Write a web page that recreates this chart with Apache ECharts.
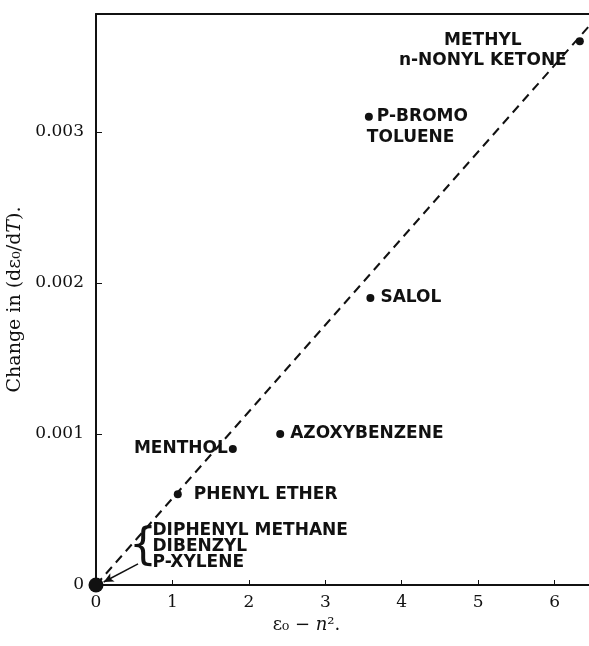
<!DOCTYPE html>
<html>
<head>
    <meta charset="utf-8">
    <title>Change in de0/dT</title>
    <script src="https://cdn.jsdelivr.net/npm/echarts@6/dist/echarts.min.js"></script>
</head>
<body style="margin:0">
    <div id="main" style="width: 589px;height:646px;"></div>
    <script type="text/javascript">
    var myChart = echarts.init(document.getElementById('main'));

// values
var compounds = ['METHYL\nn-NONYL KETONE', 'P-BROMO\nTOLUENE', 'SALOL', 'AZOXYBENZENE',
                 'MENTHOL', 'PHENYL ETHER', 'DIPHENYL METHANE\nDIBENZYL\nP-XYLENE'];
var eps0MinusN2 = [6.33, 3.57, 3.59, 2.41, 1.79, 1.07, 0];
var changeDeDt = [0.0036, 0.0031, 0.0019, 0.0010, 0.0009, 0.0006, 0];
var xTicks = [0, 1, 2, 3, 4, 5, 6];
var yTicks = [0, 0.001, 0.002, 0.003];
var fitLine = [[0, 0], [6.45, 0.0037]];

var serif = 'DejaVu Serif';
var handFont = 'DejaVu Sans';
var ink = '#111';

// label placement for each compound (same order as compounds)
var labelPlace = [
    {position: 'left', distance: 0, align: 'center', offset: [-93, 9], lineHeight: 20},
    {position: 'right', distance: 4, offset: [-10, 10], formatter: '{a|P-BROMO}\n{b|TOLUENE}'},
    {position: 'right', distance: 6},
    {position: 'right', distance: 6},
    {position: 'left', distance: 1},
    {position: 'right', distance: 12},
    {position: 'right', distance: 49, offset: [0, -38], lineHeight: 16}
];

var points = compounds.map(function (name, i) {
    return {
        name: name,
        value: [eps0MinusN2[i], changeDeDt[i]],
        symbolSize: changeDeDt[i] === 0 ? 15 : 8,
        label: labelPlace[i]
    };
});

option = {
    animation: false,
    grid: {left: 96, right: 0, top: 14, bottom: 61, containLabel: false, outerBoundsMode: 'none'},
    xAxis: [{
        type: 'value',
        min: 0,
        max: 6.45,
        interval: 1,
        name: '{r|ε₀ − }{i|n}{r|².}',
        nameLocation: 'middle',
        nameGap: 30,
        nameTextStyle: {
            padding: [0, 72, 0, 0],
            rich: {
                r: {fontFamily: serif, fontSize: 18, color: ink},
                i: {fontFamily: serif, fontSize: 18, fontStyle: 'italic', color: ink}
            }
        },
        axisLine: {lineStyle: {color: ink, width: 2}},
        axisTick: {inside: true, length: 5, lineStyle: {color: ink}},
        axisLabel: {
            fontFamily: serif, fontSize: 17, color: ink, margin: 9, showMaxLabel: false,
            formatter: function (v) { return xTicks.indexOf(v) >= 0 ? String(v) : ''; }
        },
        splitLine: {show: false}
    }, {
        type: 'value',
        position: 'top',
        min: 0,
        max: 6.45,
        axisLine: {show: true, lineStyle: {color: ink, width: 2}},
        axisTick: {show: false},
        axisLabel: {show: false},
        splitLine: {show: false}
    }],
    yAxis: {
        type: 'value',
        min: 0,
        max: 0.00378,
        interval: 0.001,
        name: '{r|Change in (dε₀/d}{i|T}{r|).}',
        nameLocation: 'middle',
        nameGap: 67,
        nameRotate: 90,
        nameTextStyle: {
            rich: {
                r: {fontFamily: serif, fontSize: 19, color: ink},
                i: {fontFamily: serif, fontSize: 19, fontStyle: 'italic', color: ink}
            }
        },
        axisLine: {show: true, lineStyle: {color: ink, width: 2}},
        axisTick: {inside: true, length: 6, lineStyle: {color: ink}},
        axisLabel: {
            fontFamily: serif, fontSize: 17, color: ink, margin: 12, showMaxLabel: false,
            formatter: function (v) {
                var t = yTicks.filter(function (k) { return Math.abs(k - v) < 1e-9; });
                if (!t.length) return '';
                return t[0] === 0 ? '0' : t[0].toFixed(3);
            }
        },
        splitLine: {show: false}
    },
    series: [{
        type: 'line',
        data: fitLine,
        showSymbol: false,
        silent: true,
        lineStyle: {color: ink, width: 2, type: [9, 6]},
        z: 1
    }, {
        type: 'scatter',
        data: points,
        itemStyle: {color: ink, opacity: 1},
        label: {
            show: true,
            formatter: '{b}',
            fontFamily: handFont,
            fontWeight: 'bold',
            fontSize: 17,
            color: ink,
            rich: {
                a: {fontFamily: handFont, fontWeight: 'bold', fontSize: 17, color: ink, padding: [0, 0, 0, 10], lineHeight: 21},
                b: {fontFamily: handFont, fontWeight: 'bold', fontSize: 17, color: ink, lineHeight: 21}
            }
        },
        z: 3
    }, {
        // brace and arrow for the three compounds at the origin
        type: 'scatter',
        data: [[eps0MinusN2[6], changeDeDt[6]]],
        symbolSize: 0,
        silent: true,
        itemStyle: {opacity: 1},
        label: {
            show: true,
            formatter: '{',
            position: 'right',
            distance: 33,
            offset: [0, -37],
            fontFamily: 'DejaVu Sans',
            fontSize: 44,
            color: ink
        },
        markLine: {
            silent: true,
            symbol: ['none', 'arrow'],
            symbolSize: [7, 10],
            label: {show: false},
            lineStyle: {color: ink, width: 1.5, type: 'solid', opacity: 1},
            data: [[{coord: [0.55, 0.00014]}, {coord: [0.1, 0.00002]}]]
        },
        z: 2
    }]
};

        myChart.setOption(option);
    </script>
</body>
</html>
